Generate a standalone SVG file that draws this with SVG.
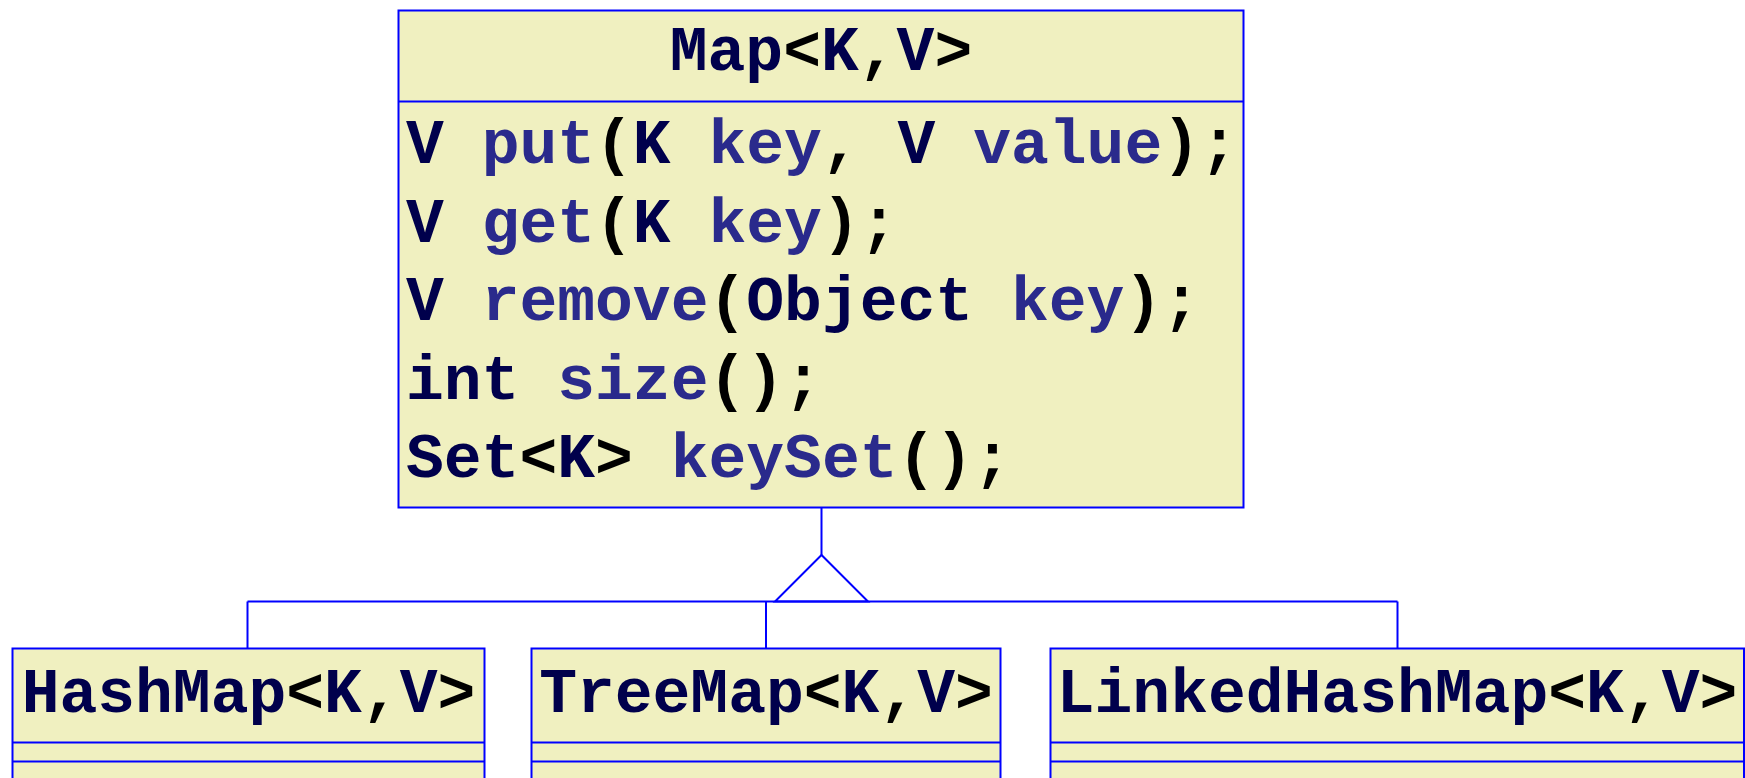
<svg xmlns="http://www.w3.org/2000/svg" width="1745" height="778" viewBox="0 0 1745 778">
  <style>
    .box { fill: #F0F0C0; stroke: #0000FF; stroke-width: 2; }
    .sep { stroke: #0000FF; stroke-width: 2; }
    .wire { fill: none; stroke: #0000FF; stroke-width: 2; }
    text { font-family: "Liberation Mono", "Courier New", monospace; font-weight: bold; font-size: 63px; fill: #000000; }
    .ty { fill: #00004C; }
    .mb { fill: #2A2A8C; }
  </style>
  <rect width="1745" height="778" fill="#FFFFFF"/>

  <!-- interface Map -->
  <g id="map">
    <rect class="box" x="398.5" y="10.5" width="845" height="497"/>
    <line class="sep" x1="398.5" y1="101.5" x2="1243.5" y2="101.5"/>
    <text x="821" y="70" text-anchor="middle" xml:space="preserve"><tspan class="ty">Map</tspan>&lt;<tspan class="ty">K</tspan>,<tspan class="ty">V</tspan>&gt;</text>
    <text x="406" y="163" xml:space="preserve"><tspan class="ty">V</tspan> <tspan class="mb">put</tspan>(<tspan class="ty">K</tspan> <tspan class="mb">key</tspan>, <tspan class="ty">V</tspan> <tspan class="mb">value</tspan>);</text>
    <text x="406" y="241.5" xml:space="preserve"><tspan class="ty">V</tspan> <tspan class="mb">get</tspan>(<tspan class="ty">K</tspan> <tspan class="mb">key</tspan>);</text>
    <text x="406" y="320" xml:space="preserve"><tspan class="ty">V</tspan> <tspan class="mb">remove</tspan>(<tspan class="ty">Object</tspan> <tspan class="mb">key</tspan>);</text>
    <text x="406" y="398.5" xml:space="preserve"><tspan class="ty">int</tspan> <tspan class="mb">size</tspan>();</text>
    <text x="406" y="476.5" xml:space="preserve"><tspan class="ty">Set</tspan>&lt;<tspan class="ty">K</tspan>&gt; <tspan class="mb">keySet</tspan>();</text>
  </g>

  <!-- implementations -->
  <g id="hashmap">
    <rect class="box" x="12.5" y="648.5" width="472" height="160"/>
    <line class="sep" x1="12.5" y1="742.5" x2="484.5" y2="742.5"/>
    <line class="sep" x1="12.5" y1="761.5" x2="484.5" y2="761.5"/>
    <text x="248.5" y="711.5" text-anchor="middle" xml:space="preserve"><tspan class="ty">HashMap</tspan>&lt;<tspan class="ty">K</tspan>,<tspan class="ty">V</tspan>&gt;</text>
  </g>

  <g id="treemap">
    <rect class="box" x="531.5" y="648.5" width="469" height="160"/>
    <line class="sep" x1="531.5" y1="742.5" x2="1000.5" y2="742.5"/>
    <line class="sep" x1="531.5" y1="761.5" x2="1000.5" y2="761.5"/>
    <text x="766" y="711.5" text-anchor="middle" xml:space="preserve"><tspan class="ty">TreeMap</tspan>&lt;<tspan class="ty">K</tspan>,<tspan class="ty">V</tspan>&gt;</text>
  </g>

  <g id="linkedhashmap">
    <rect class="box" x="1050.5" y="648.5" width="693.5" height="160"/>
    <line class="sep" x1="1050.5" y1="742.5" x2="1744" y2="742.5"/>
    <line class="sep" x1="1050.5" y1="761.5" x2="1744" y2="761.5"/>
    <text x="1397" y="711.5" text-anchor="middle" xml:space="preserve"><tspan class="ty">LinkedHashMap</tspan>&lt;<tspan class="ty">K</tspan>,<tspan class="ty">V</tspan>&gt;</text>
  </g>

  <!-- generalization connectors -->
  <g id="connectors">
    <line class="wire" x1="821.5" y1="507.5" x2="821.5" y2="555"/>
    <polygon class="wire" points="821.5,555 775,601.5 868,601.5"/>
    <line class="wire" x1="247.5" y1="601.5" x2="1397.5" y2="601.5"/>
    <line class="wire" x1="247.5" y1="601.5" x2="247.5" y2="648.5"/>
    <line class="wire" x1="766" y1="601.5" x2="766" y2="648.5"/>
    <line class="wire" x1="1397.5" y1="601.5" x2="1397.5" y2="648.5"/>
  </g>
</svg>
